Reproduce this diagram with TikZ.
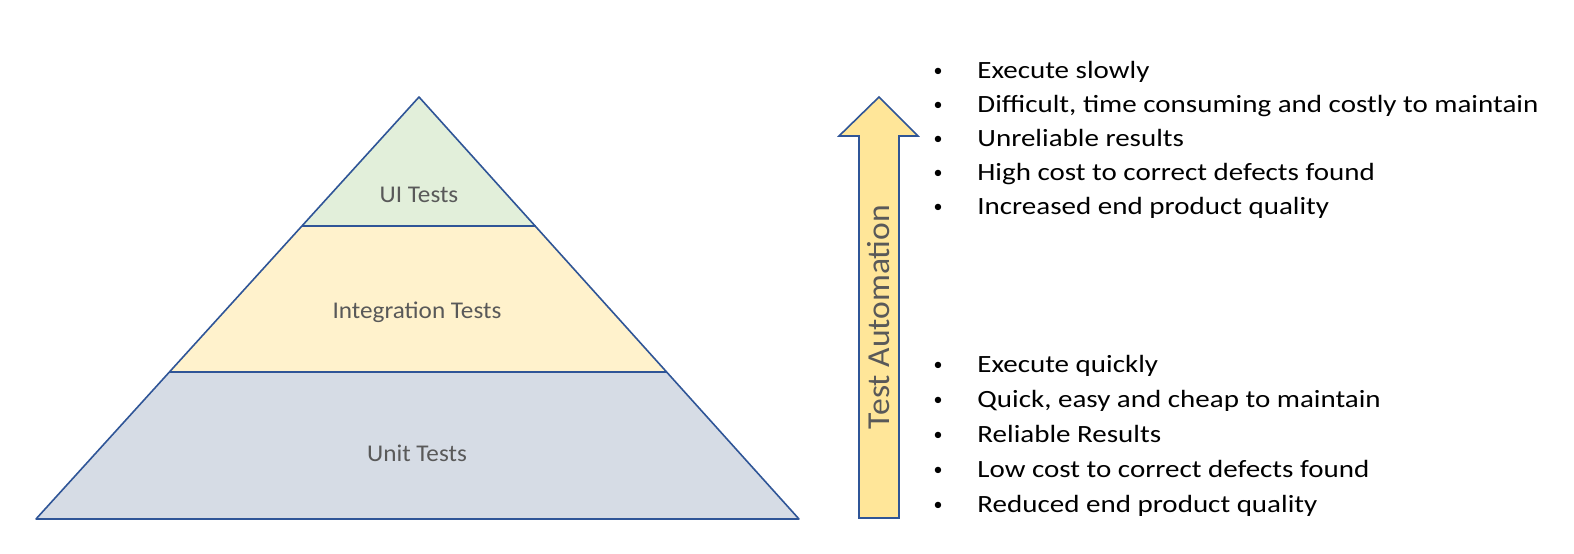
\documentclass[tikz,border=0pt]{standalone}
\usepackage{fontspec}
\setmainfont{Carlito}
\newfontfamily\widefont[FakeStretch=1.17]{Carlito}
\newfontfamily\labfont[FakeStretch=1.05]{Carlito}
\definecolor{edge}{HTML}{2F5597}
\definecolor{uifill}{HTML}{E2EFDA}
\definecolor{intfill}{HTML}{FFF2CC}
\definecolor{unitfill}{HTML}{D6DCE5}
\definecolor{arrfill}{HTML}{FFE699}
\definecolor{labgray}{HTML}{595959}
\tikzset{
  tier/.style={draw=edge, line width=0.8pt, line join=round},
  tierlabel/.style={text=labgray, font=\labfont\fontsize{12}{14}\selectfont, inner sep=0pt},
  bullettext/.style={anchor=base west, font=\widefont\fontsize{12.4}{15}\selectfont, inner sep=0pt},
  bulletdot/.style={anchor=base, font=\fontsize{9}{11}\selectfont, inner sep=0pt},
}
\begin{document}
\begin{tikzpicture}[x=0.5pt,y=-0.5pt]
\useasboundingbox (0,0) rectangle (1574,553);
% pyramid
\coordinate (apex) at (419,97);
\coordinate (bl) at (36,519);
\coordinate (br) at (799,519);
\coordinate (l1) at (302,226);
\coordinate (r1) at (536,226);
\coordinate (l2) at (170,372);
\coordinate (r2) at (667,372);
\fill[unitfill] (l2) -- (r2) -- (br) -- (bl) -- cycle;
\fill[intfill] (l1) -- (r1) -- (r2) -- (l2) -- cycle;
\fill[uifill] (apex) -- (r1) -- (l1) -- cycle;
\draw[tier] (apex) -- (br) -- (bl) -- cycle;
\draw[tier] (l1) -- (r1);
\draw[tier] (l2) -- (r2);
\node[tierlabel] (ui) at (419,195) {UI Tests};
\node[tierlabel] (integ) at (417,312) {Integration Tests};
\node[tierlabel] (unit) at (417,453) {Unit Tests};
% arrow
\draw[draw=edge, line width=0.8pt, fill=arrfill, line join=miter]
  (879,97) -- (918,136) -- (899,136) -- (899,518) -- (859,518) -- (859,136) -- (839,136) -- cycle;
\node[rotate=90, text=labgray, font=\labfont\fontsize{16}{19}\selectfont, inner sep=0pt] (ta) at (879,317) {Test Automation};
% bullets top
\foreach \t [count=\i] in {Execute slowly,{Difficult, time consuming and costly to maintain},Unreliable results,High cost to correct defects found,Increased end product quality}{
  \node[bulletdot] (ub\i) at (938,{76+34*(\i-1)}) {•};
  \node[bullettext] (ut\i) at (977,{78+34*(\i-1)}) {\t};
}
\foreach \t [count=\i] in {Execute quickly,{Quick, easy and cheap to maintain},Reliable Results,Low cost to correct defects found,Reduced end product quality}{
  \node[bulletdot] (lb\i) at (938,{370+35*(\i-1)}) {•};
  \node[bullettext] (lt\i) at (977,{372+35*(\i-1)}) {\t};
}
\end{tikzpicture}
\end{document}
